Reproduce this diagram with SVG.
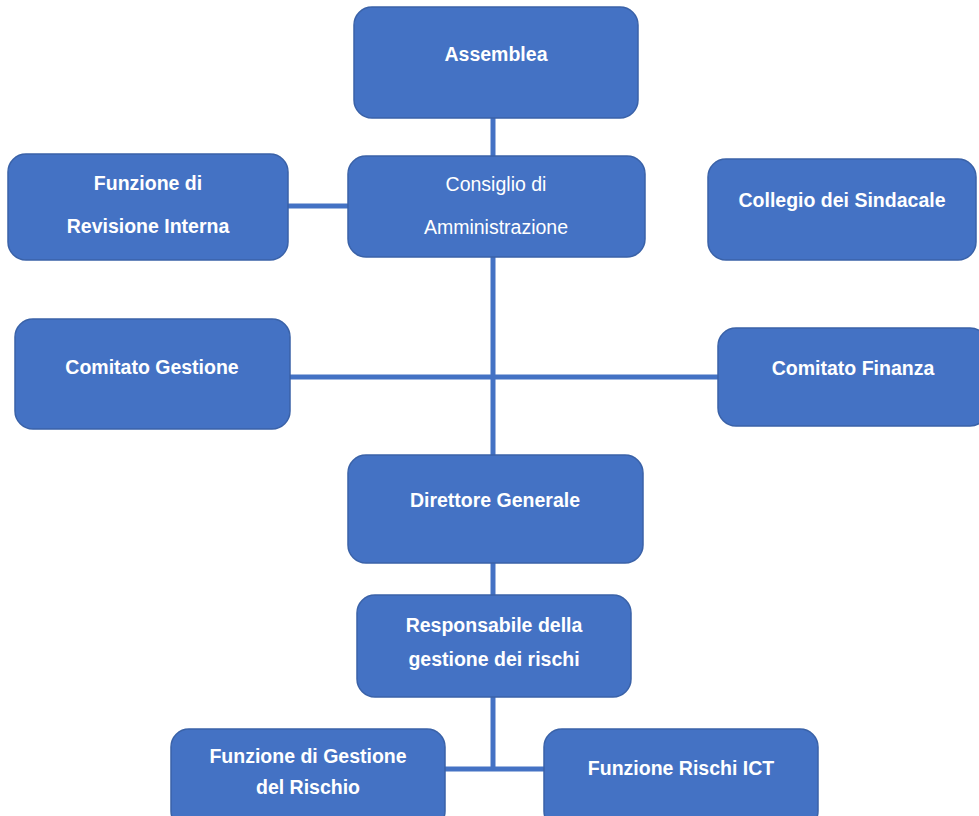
<svg xmlns="http://www.w3.org/2000/svg" width="979" height="816" viewBox="0 0 979 816">
<style>
.box{fill:#4472C4;stroke:#3A62A8;stroke-width:1.5}
.t{font-family:"Liberation Sans",Arial,sans-serif;font-size:19.5px;fill:#fff;text-anchor:middle;font-weight:bold}
.n{font-weight:normal}
.c{stroke:#4472C4;stroke-width:5;fill:none}
</style>
<rect width="979" height="816" fill="#fff"/>
<g id="connectors">
<line class="c" x1="493" y1="118" x2="493" y2="156"/>
<line class="c" x1="493" y1="257" x2="493" y2="455"/>
<line class="c" x1="288" y1="206" x2="348" y2="206"/>
<line class="c" x1="290" y1="377" x2="718" y2="377"/>
<line class="c" x1="493" y1="563" x2="493" y2="595"/>
<line class="c" x1="493" y1="697" x2="493" y2="769"/>
<line class="c" x1="445" y1="769" x2="544" y2="769"/>
</g>
<g id="assemblea"><rect class="box" x="354" y="7" width="284" height="111" rx="18"/><text class="t" x="496" y="61">Assemblea</text></g>
<g id="consiglio"><rect class="box" x="348" y="156" width="297" height="101" rx="18"/><text class="t n" x="496" y="191">Consiglio di</text><text class="t n" x="496" y="234">Amministrazione</text></g>
<g id="revisione"><rect class="box" x="8" y="154" width="280" height="106" rx="18"/><text class="t" x="148" y="190">Funzione di</text><text class="t" x="148" y="233">Revisione Interna</text></g>
<g id="collegio"><rect class="box" x="708" y="159" width="268" height="101" rx="18"/><text class="t" x="842" y="207">Collegio dei Sindacale</text></g>
<g id="comitato-gestione"><rect class="box" x="15" y="319" width="275" height="110" rx="18"/><text class="t" x="152" y="374">Comitato Gestione</text></g>
<g id="comitato-finanza"><rect class="box" x="718" y="328" width="270" height="98" rx="18"/><text class="t" x="853" y="375">Comitato Finanza</text></g>
<g id="direttore"><rect class="box" x="348" y="455" width="295" height="108" rx="18"/><text class="t" x="495" y="507">Direttore Generale</text></g>
<g id="responsabile"><rect class="box" x="357" y="595" width="274" height="102" rx="18"/><text class="t" x="494" y="632">Responsabile della</text><text class="t" x="494" y="666">gestione dei rischi</text></g>
<g id="gestione-rischio"><rect class="box" x="171" y="729" width="274" height="100" rx="18"/><text class="t" x="308" y="763">Funzione di Gestione</text><text class="t" x="308" y="794">del Rischio</text></g>
<g id="rischi-ict"><rect class="box" x="544" y="729" width="274" height="100" rx="18"/><text class="t" x="681" y="775">Funzione Rischi ICT</text></g>
</svg>
